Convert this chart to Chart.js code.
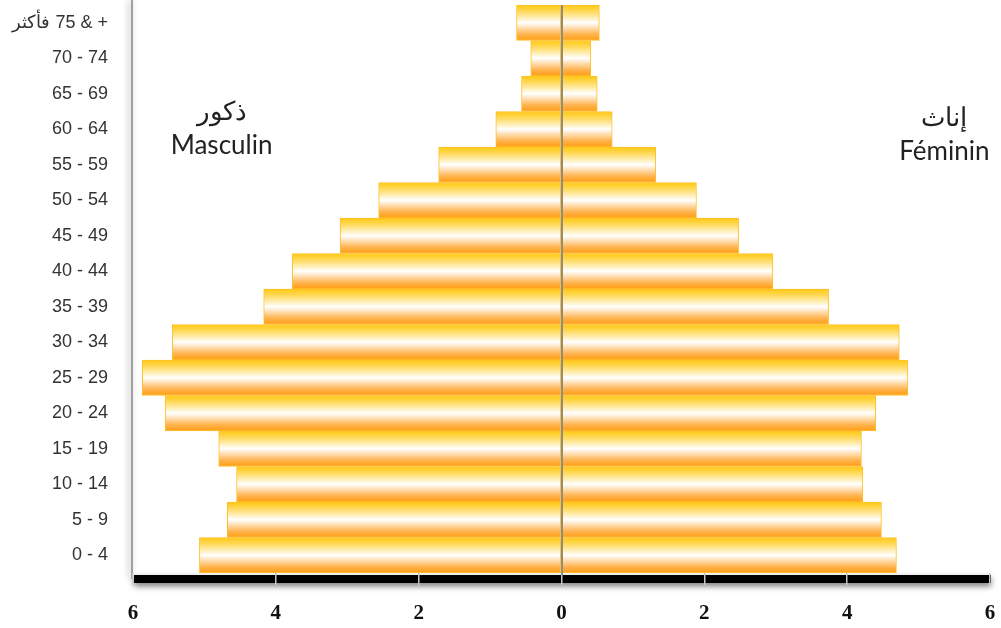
<!DOCTYPE html>
<html>
<head>
<meta charset="utf-8">
<script src="https://cdn.jsdelivr.net/npm/chart.js@4/dist/chart.umd.min.js"></script>
<style>
    body { margin: 0; background: #fff; }
    #chart { display: block; }
</style>
</head>
<body>
<canvas id="chart" width="1001" height="628"></canvas>
<script>
// age groups, top of the pyramid first
const ageGroups = ['فأكثر\u200E 75 & +', '70 - 74', '65 - 69', '60 - 64', '55 - 59', '50 - 54', '45 - 49',
    '40 - 44', '35 - 39', '30 - 34', '25 - 29', '20 - 24', '15 - 19', '10 - 14', '5 - 9', '0 - 4'];
const male = [0.63, 0.43, 0.56, 0.92, 1.72, 2.56, 3.10, 3.77, 4.17, 5.45, 5.87, 5.55, 4.80, 4.55, 4.68, 5.07];
const female = [0.53, 0.41, 0.50, 0.71, 1.32, 1.89, 2.48, 2.96, 3.74, 4.73, 4.85, 4.40, 4.20, 4.22, 4.48, 4.69];
const xTicks = [-6, -4, -2, 0, 2, 4, 6];
const maleLabel = ['ذكور', 'Masculin'];
const femaleLabel = ['إناث', 'Féminin'];

function barFill(ctx) {
    const chart = ctx.chart;
    const y = chart.scales.y;
    if (ctx.type !== 'data' || !y || !chart.chartArea) return '#ffc81a';
    const c = y.getPixelForValue(ctx.dataIndex);
    const h = Math.abs(y.getPixelForValue(1) - y.getPixelForValue(0));
    const g = chart.ctx.createLinearGradient(0, c - h / 2, 0, c + h / 2);
    g.addColorStop(0, '#ffc80f');
    g.addColorStop(0.18, '#ffd95a');
    g.addColorStop(0.5, '#ffffff');
    g.addColorStop(0.82, '#ffb450');
    g.addColorStop(1, '#ff9d12');
    return g;
}

const decor = {
    id: 'decor',
    beforeDraw(chart) {
        const {ctx, chartArea: a} = chart;
        ctx.save();
        // thick black base axis
        ctx.shadowColor = 'rgba(0,0,0,0.55)';
        ctx.shadowBlur = 6;
        ctx.shadowOffsetY = 3;
        ctx.fillStyle = '#000';
        ctx.fillRect(a.left + 1, a.bottom + 2, a.right - a.left, 8);
        // left axis line
        ctx.shadowOffsetY = 0;
        ctx.shadowOffsetX = -2;
        ctx.shadowColor = 'rgba(0,0,0,0.35)';
        ctx.fillStyle = '#a0a0a0';
        ctx.fillRect(a.left - 2, 0, 2, a.bottom + 6);
        ctx.restore();
    },
    afterDatasetsDraw(chart) {
        const {ctx, chartArea: a, scales: {x}} = chart;
        const x0 = Math.round(x.getPixelForValue(0));
        ctx.save();
        ctx.fillStyle = '#8c8c8c';
        ctx.fillRect(x0 - 1, a.top, 2, a.bottom + 2 - a.top);
        ctx.restore();
    },
    afterDraw(chart) {
        const {ctx, scales: {x, y}} = chart;
        ctx.save();
        ctx.fillStyle = '#222';
        ctx.textAlign = 'center';
        ctx.textBaseline = 'middle';
        ctx.font = '26px Lato';
        const mx = x.getPixelForValue(-4.76), fx = x.getPixelForValue(5.36);
        const my = y.getPixelForValue(2.51), fy = y.getPixelForValue(2.68);
        ctx.fillText(maleLabel[0], mx, my);
        ctx.fillText(maleLabel[1], mx, my + 34);
        ctx.fillText(femaleLabel[0], fx, fy);
        ctx.fillText(femaleLabel[1], fx, fy + 34);
        ctx.restore();
    }
};

new Chart(document.getElementById('chart'), {
    type: 'bar',
    data: {
        labels: ageGroups,
        datasets: [
            {label: 'Masculin', data: male.map(v => -v), backgroundColor: barFill, borderColor: '#ffbf2a'},
            {label: 'Féminin', data: female, backgroundColor: barFill, borderColor: '#ffbf2a'}
        ]
    },
    options: {
        indexAxis: 'y',
        responsive: false,
        animation: false,
        layout: {padding: {top: 5, right: 11, left: 0, bottom: 0}},
        datasets: {
            bar: {
                barPercentage: 1,
                categoryPercentage: 1,
                borderWidth: 1,
                borderSkipped: false
            }
        },
        plugins: {
            colors: {enabled: false},
            legend: {display: false},
            tooltip: {enabled: false}
        },
        scales: {
            x: {
                stacked: true,
                min: -6,
                max: 6,
                afterBuildTicks: s => { s.ticks = xTicks.map(v => ({value: v})); },
                afterFit: s => { s.height = 55; s.paddingLeft = 0; s.paddingRight = 0; },
                border: {display: false},
                grid: {drawOnChartArea: false, drawTicks: true, tickLength: 12, color: '#c8c8c8', lineWidth: 1.5},
                ticks: {
                    color: '#111',
                    padding: 16,
                    maxRotation: 0,
                    font: {family: '"Liberation Serif"', size: 21, weight: 'bold'},
                    callback: v => Math.abs(v)
                }
            },
            y: {
                stacked: true,
                afterFit: s => { s.width = 133; s.paddingTop = 0; s.paddingBottom = 0; },
                border: {display: false},
                grid: {display: false, drawTicks: false},
                ticks: {
                    color: '#333',
                    padding: 25,
                    font: {family: '"Liberation Sans"', size: 18}
                }
            }
        }
    },
    plugins: [decor]
});
</script>
</body>
</html>
